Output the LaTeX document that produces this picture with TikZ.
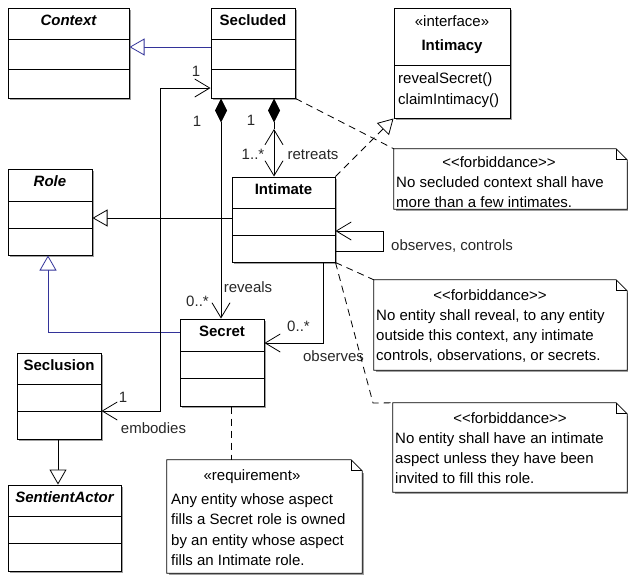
\documentclass[tikz,border=0pt]{standalone}
\usepackage{fontspec}
\setmainfont{Liberation Sans}
\usetikzlibrary{arrows.meta,fit}

\definecolor{genblue}{RGB}{51,51,153}
\definecolor{shadowgray}{RGB}{160,160,160}
\definecolor{labelgray}{RGB}{40,40,40}
\newcommand{\dfont}{\fontsize{15}{20}\selectfont}

\tikzset{
  boxline/.style={line width=1pt},
  conn/.style={line width=0.8pt},
  txt/.style={inner sep=0pt, text height=11pt, text depth=3pt, font=\dfont},
  title/.style={txt, font=\dfont\bfseries},
  atitle/.style={txt, font=\dfont\bfseries\itshape},
  lbl/.style={txt, text=labelgray},
  notetext/.style={inner sep=0pt, align=left, anchor=north west, font=\dfont},
  obarb/.tip={Straight Barb[length=15pt,width=18pt]},
  otri/.tip={Triangle[length=15pt,width=17pt,fill=white]},
  cdia/.tip={Diamond[length=24pt,width=12pt]},
  notelink/.style={conn, dash pattern=on 7pt off 5pt},
}

% class box: name, left, top, right, bottom, first divider, second divider
\newcommand{\umlbox}[7]{%
  \fill[shadowgray] (#2+2,#3+2) rectangle (#4+2,#5+2);
  \node[boxline, draw, fill=white, inner sep=0pt, fit={(#2,#3) (#4,#5)}] (#1) {};
  \draw[boxline] (#2,#6) -- (#4,#6);
  \draw[boxline] (#2,#7) -- (#4,#7);
}

% note with folded corner: name, left, top, right, bottom
\newcommand{\umlnote}[5]{%
  \fill[shadowgray] (#2+2,#3+13) rectangle (#4+2,#5+2);
  \node[inner sep=0pt, fit={(#2,#3) (#4,#5)}] (#1) {};
  \draw[conn, fill=white] (#1.north west) -- ([xshift=-11pt]#1.north east)
    -- ([yshift=-11pt]#1.north east) -- (#1.south east) -- (#1.south west) -- cycle;
  \draw[conn] ([xshift=-11pt]#1.north east) -- ([xshift=-11pt,yshift=-11pt]#1.north east)
    -- ([yshift=-11pt]#1.north east);
}

\begin{document}
\begin{tikzpicture}[x=1pt,y=-1pt]
\useasboundingbox (0,0) rectangle (628,574);

% ---------- classes ----------
\umlbox{context}{8}{8}{129}{98}{39}{69}
\node[atitle] (context-t) at (68.5,21) {Context};

\umlbox{secluded}{211}{8}{295}{98}{39}{69}
\node[title] (secluded-t) at (253,21) {Secluded};

\fill[shadowgray] (396,10) rectangle (512,120);
\node[boxline, draw, fill=white, inner sep=0pt, fit={(394,8) (510,118)}] (intimacy) {};
\draw[boxline] (394,65) -- (510,65);
\node[txt] (intimacy-s) at (452,22) {«interface»};
\node[title] (intimacy-t) at (452,46) {Intimacy};
\node[txt, anchor=west] (intimacy-m1) at (398,79) {revealSecret()};
\node[txt, anchor=west] (intimacy-m2) at (398,100) {claimIntimacy()};

\umlbox{role}{8}{169}{92}{255}{201}{228}
\node[atitle] (role-t) at (50,182) {Role};

\umlbox{intimate}{232}{177}{335}{262}{208}{235}
\node[title] (intimate-t) at (283.5,190) {Intimate};

\umlbox{secret}{180}{319}{264}{406}{351}{378}
\node[title] (secret-t) at (222,332) {Secret};

\umlbox{seclusion}{17}{353}{101}{439}{384}{411}
\node[title] (seclusion-t) at (59,366) {Seclusion};

\umlbox{sentient}{8}{485}{121}{571}{516}{543}
\node[atitle] (sentient-t) at (64.5,498) {SentientActor};

% ---------- notes ----------
\umlnote{n1}{394}{149}{627}{209}
\node[txt] (n1-s) at (499,163) {<{}<forbiddance>{}>};
\node[notetext] (n1-b) at (396,176) {No secluded context shall have\\more than a few intimates.};

\umlnote{n2}{374}{280}{627}{370}
\node[txt] (n2-s) at (490,296) {<{}<forbiddance>{}>};
\node[notetext] (n2-b) at (376,309) {No entity shall reveal, to any entity\\outside this context, any intimate\\controls, observations, or secrets.};

\umlnote{n3}{393}{403}{627}{492}
\node[txt] (n3-s) at (510,419) {<{}<forbiddance>{}>};
\node[notetext] (n3-b) at (395,432.5) {No entity shall have an intimate\\aspect unless they have been\\invited to fill this role.};

\umlnote{n4}{167}{460}{362}{573}
\node[txt] (n4-s) at (252,476) {«requirement»};
\node[notetext, font=\fontsize{15}{20.5}\selectfont] (n4-b) at (171,493) {Any entity whose aspect\\fills a Secret role is owned\\by an entity whose aspect\\fills an Intimate role.};

% ---------- generalizations ----------
\draw[conn, genblue, -{otri}] (secluded.west |- 0,47) -- (context.east |- 0,47);
\draw[conn, -{otri}] (intimate.west |- 0,218) -- (role.east |- 0,218);
\draw[conn, genblue, -{otri}] (secret.west |- 0,332) -| (role.south -| 48,0);
\draw[conn, -{otri}] (seclusion.south -| 58,0) -- (sentient.north -| 58,0);
\draw[conn, dash pattern=on 7pt off 5pt, -{otri}] (intimate.north east) -- (intimacy.south west);

% ---------- associations ----------
% embodies
\draw[conn, {obarb}-{obarb}] (seclusion.east |- 0,411) -| (160,88) -- (secluded.west |- 0,88);
\node[lbl] (emb-1a) at (196,72) {1};
\node[lbl] (emb-1b) at (123,398) {1};
\node[lbl] (emb-l) at (153.5,429) {embodies};

% reveals (composition)
\draw[conn, {cdia}-{obarb}] (secluded.south -| 221,0) -- (secret.north -| 221,0);
\node[lbl] (rev-1) at (197,122) {1};
\node[lbl] (rev-m) at (197.5,302) {0..*};
\node[lbl] (rev-l) at (248,288) {reveals};

% retreats (composition)
\coordinate (rt) at (274,129);
\draw[conn, -{cdia}] (rt) -- (secluded.south -| rt);
\draw[conn, {obarb}-{obarb}] (rt) -- (intimate.north -| rt);
\node[lbl] (ret-1) at (251,121) {1};
\node[lbl] (ret-m) at (253,155) {1..*};
\node[lbl] (ret-l) at (313,155) {retreats};

% observes, controls (self association)
\draw[conn, -{obarb}] (intimate.east |- 0,251) -- (383,251) -- (383,231) -- (intimate.east |- 0,231);
\node[lbl, anchor=west] (self-l) at (391,246) {observes, controls};

% observes
\draw[conn, -{obarb}] (intimate.south -| 323,0) |- (secret.east |- 0,343);
\node[lbl] (obs-m) at (298.5,327) {0..*};
\node[lbl] (obs-l) at (333.5,357) {observes};

% ---------- note links ----------
\draw[notelink] (secluded.south east) -- (n1.north west);
\draw[notelink] (intimate.south east) -- (n2.north west);
\draw[notelink] (intimate.south east) -- (373,403) -- (n3.north west);
\draw[notelink] (secret.south -| 231,0) -- (n4.north -| 231,0);

\end{tikzpicture}
\end{document}
